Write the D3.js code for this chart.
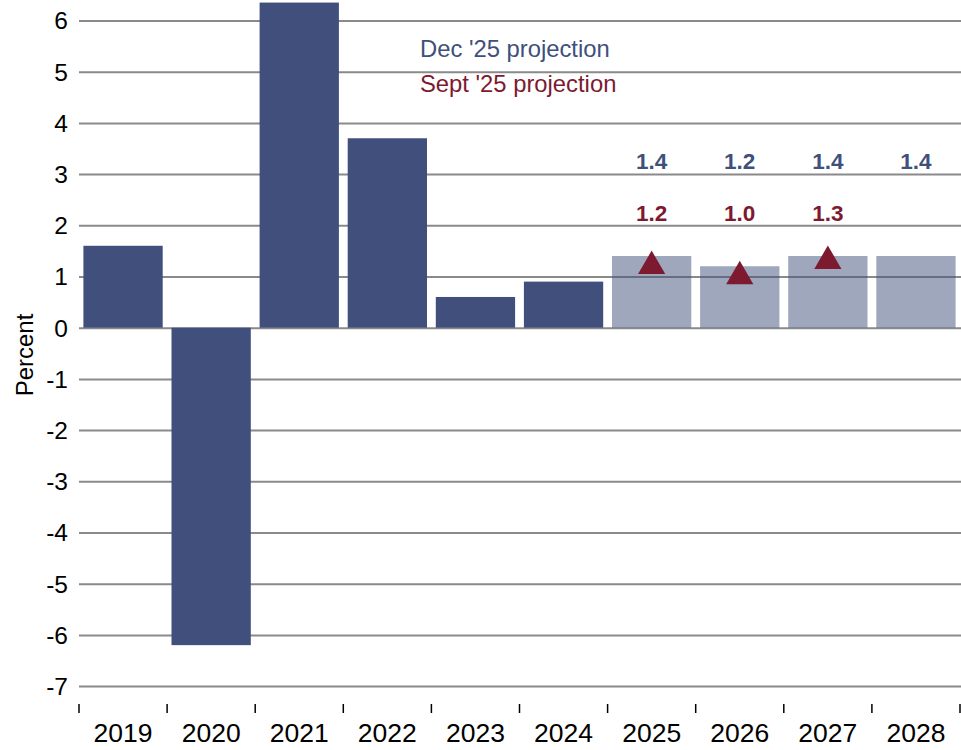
<!DOCTYPE html>
<html>
<head>
<meta charset="utf-8">
<script src="https://cdn.jsdelivr.net/npm/d3@7"></script>
<style>
  body { margin: 0; background: #fff; }
  svg text { font-family: Arial, "Liberation Sans", sans-serif; }
</style>
</head>
<body>
<script>
// data
var years = ["2019", "2020", "2021", "2022", "2023", "2024", "2025", "2026", "2027", "2028"];
var actualYears = ["2019", "2020", "2021", "2022", "2023", "2024"];
var actualValues = [1.6, -6.2, 6.35, 3.7, 0.6, 0.9];
var projYears = ["2025", "2026", "2027", "2028"];
var decValues = [1.4, 1.2, 1.4, 1.4];
var septYears = ["2025", "2026", "2027"];
var septValues = [1.2, 1.0, 1.3];
var yTicks = [6, 5, 4, 3, 2, 1, 0, -1, -2, -3, -4, -5, -6, -7];

var blue = "#404f7c";
var red = "#7d1a30";

var svg = d3.select("body").append("svg")
    .attr("width", 961)
    .attr("height", 750);

var x = d3.scaleBand()
    .domain(years)
    .range([79, 960])
    .paddingInner(0.1)
    .paddingOuter(0.05);

var y = d3.scaleLinear()
    .domain([-7, 6])
    .range([686.1, 20.5]);

// gridlines
var yGrid = d3.axisLeft(y)
    .tickValues(yTicks)
    .tickFormat("")
    .tickSize(-(961 - 79));

svg.append("g")
    .attr("class", "grid")
    .attr("transform", "translate(79,0)")
    .call(yGrid)
    .call(function (g) {
        g.select(".domain").remove();
        g.selectAll("line").attr("stroke", "#8a8a8a").attr("stroke-width", 2);
    });

// y tick labels
svg.append("g").selectAll("text")
    .data(yTicks)
    .enter().append("text")
    .attr("x", 68)
    .attr("y", function (d) { return y(d); })
    .attr("dy", "0.36em")
    .attr("text-anchor", "end")
    .attr("font-size", 24.5)
    .attr("fill", "#000")
    .text(function (d) { return d; });

// actual bars (drawn over the grid)
svg.append("g").selectAll("rect")
    .data(actualYears)
    .enter().append("rect")
    .attr("x", function (d) { return x(d); })
    .attr("width", x.bandwidth())
    .attr("y", function (d, i) { return y(Math.max(0, actualValues[i])); })
    .attr("height", function (d, i) { return Math.abs(y(actualValues[i]) - y(0)); })
    .attr("fill", blue);

// projection bars, translucent so the grid shows through
svg.append("g").selectAll("rect")
    .data(projYears)
    .enter().append("rect")
    .attr("x", function (d) { return x(d); })
    .attr("width", x.bandwidth())
    .attr("y", function (d, i) { return y(decValues[i]); })
    .attr("height", function (d, i) { return y(0) - y(decValues[i]); })
    .attr("fill", blue)
    .attr("fill-opacity", 0.5);

// sept triangles
svg.append("g").selectAll("path")
    .data(septYears)
    .enter().append("path")
    .attr("d", d3.symbol().type(d3.symbolTriangle).size(320))
    .attr("transform", function (d, i) {
        return "translate(" + (x(d) + x.bandwidth() / 2) + "," + y(septValues[i]) + ")";
    })
    .attr("fill", red);

// value labels
svg.append("g").selectAll("text")
    .data(projYears)
    .enter().append("text")
    .attr("x", function (d) { return x(d) + x.bandwidth() / 2; })
    .attr("y", 169)
    .attr("text-anchor", "middle")
    .attr("font-size", 22.5)
    .attr("font-weight", "bold")
    .attr("fill", blue)
    .text(function (d, i) { return decValues[i].toFixed(1); });

svg.append("g").selectAll("text")
    .data(septYears)
    .enter().append("text")
    .attr("x", function (d) { return x(d) + x.bandwidth() / 2; })
    .attr("y", 221)
    .attr("text-anchor", "middle")
    .attr("font-size", 22.5)
    .attr("font-weight", "bold")
    .attr("fill", red)
    .text(function (d, i) { return septValues[i].toFixed(1); });

// x axis ticks at band edges
var edges = years.map(function (d) { return x(d) - x.step() * x.paddingInner() / 2; });
edges.push(960);

svg.append("g").selectAll("line")
    .data(edges)
    .enter().append("line")
    .attr("x1", function (d) { return d; })
    .attr("x2", function (d) { return d; })
    .attr("y1", 704)
    .attr("y2", 713)
    .attr("stroke", "#000")
    .attr("stroke-width", 1.5);

svg.append("g").selectAll("text")
    .data(years)
    .enter().append("text")
    .attr("x", function (d) { return x(d) + x.bandwidth() / 2; })
    .attr("y", 742)
    .attr("text-anchor", "middle")
    .attr("font-size", 26.5)
    .attr("fill", "#000")
    .text(function (d) { return d; });

// y axis title
svg.append("text")
    .attr("transform", "translate(33,355) rotate(-90)")
    .attr("text-anchor", "middle")
    .attr("font-size", 24)
    .attr("fill", "#000")
    .text("Percent");

// legend
svg.append("text")
    .attr("x", 420)
    .attr("y", 57)
    .attr("font-size", 23.8)
    .attr("fill", blue)
    .text("Dec '25 projection");

svg.append("text")
    .attr("x", 420)
    .attr("y", 91.5)
    .attr("font-size", 23.8)
    .attr("fill", red)
    .text("Sept '25 projection");
</script>
</body>
</html>
